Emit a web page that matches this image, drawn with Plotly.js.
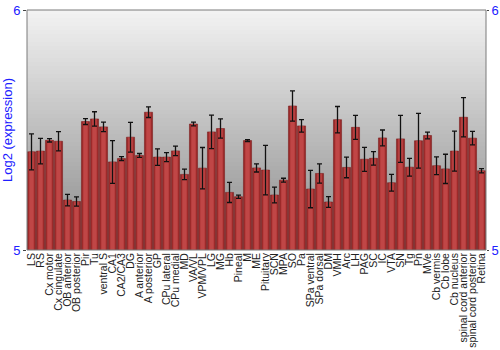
<!DOCTYPE html>
<html>
<head>
<meta charset="utf-8">
<script src="https://cdn.plot.ly/plotly-3.0.1.min.js"></script>
<style>html,body{margin:0;padding:0;background:#fff;}#chart{width:500px;height:350px;}</style>
</head>
<body>
<div id="chart"></div>
<script>
const regions = ["LS","RS","Cx motor","Cx cingulate","OB anterior","OB posterior","Pir","Tu","ventral S","CA1","CA2/CA3","DG","A anterior","A posterior","GP","CPu lateral","CPu medial","MD","VA/VL","VPM/VPL","LG","MG","Hb","Pineal","M","ME","Pituitary","SCN","MPA","SO","Pa","SPa ventral","SPa dorsal","DM","VMH","Arc","LH","PAG","SC","IC","VTA","SN","Tg","Pn","MVe","Cb vermis","Cb lobe","Cb nucleus","spinal cord anterior","spinal cord posterior","Retina"];
const expression = [5.409,5.412,5.457,5.453,5.208,5.202,5.535,5.546,5.513,5.367,5.381,5.470,5.394,5.574,5.387,5.387,5.413,5.315,5.525,5.341,5.492,5.506,5.240,5.222,5.456,5.342,5.333,5.229,5.291,5.600,5.517,5.254,5.319,5.200,5.543,5.344,5.511,5.378,5.382,5.467,5.280,5.463,5.345,5.455,5.477,5.351,5.338,5.412,5.553,5.466,5.330];
const errors = [0.075,0.053,0.007,0.040,0.024,0.019,0.012,0.030,0.020,0.089,0.008,0.062,0.008,0.022,0.034,0.019,0.020,0.022,0.008,0.086,0.070,0.040,0.042,0.007,0.004,0.017,0.103,0.033,0.008,0.063,0.026,0.078,0.040,0.022,0.055,0.043,0.050,0.050,0.028,0.033,0.035,0.098,0.037,0.114,0.014,0.037,0.061,0.083,0.082,0.028,0.009];
const yTicks = [5, 6];

// background gradient bands
const shapes = [];
const nBands = 60;
for (let i = 0; i < nBands; i++) {
  const t = i / (nBands - 1);
  const c = Math.round(242 - t * (242 - 138));
  shapes.push({type:'rect', xref:'paper', yref:'paper', x0:0, x1:1,
    y0:1 - (i + 1) / nBands, y1:1 - i / nBands,
    fillcolor:`rgb(${c},${c},${c})`, line:{width:0}, layer:'below'});
}
// plot frame
shapes.push({type:'rect', xref:'paper', yref:'paper', x0:0, x1:1, y0:0, y1:1,
  fillcolor:'rgba(0,0,0,0)', line:{color:'#7a7a7a', width:1}, layer:'above'});

const base = {
  type:'bar', x:regions, y:expression, base:0,
  width:0.9, marker:{color:'#9c2a2a', line:{color:'#7a1c1c', width:0.6}},
  hoverinfo:'skip', showlegend:false
};
const shine = {
  type:'bar', x:regions, y:expression,
  width:0.5, marker:{color:'#c04646', line:{width:0}},
  error_y:{type:'data', array:errors, visible:true, color:'#111', thickness:1.3, width:2.5},
  showlegend:false
};
// invisible trace so the mirrored right-hand axis is drawn
const rightAxis = {
  type:'scatter', mode:'markers', x:regions, y:expression, yaxis:'y2',
  marker:{opacity:0}, hoverinfo:'skip', showlegend:false
};

const layout = {
  width:500, height:350,
  margin:{l:27, r:14, t:10, b:100, pad:0},
  paper_bgcolor:'#fff', plot_bgcolor:'rgba(0,0,0,0)',
  barmode:'overlay', bargap:0.1,
  font:{family:'Liberation Sans, Arial, sans-serif'},
  shapes:shapes,
  xaxis:{tickangle:-90, tickmode:'linear', dtick:1, tick0:0, color:'#808080',
    tickfont:{size:10.5, color:'#222'}, showline:false, ticks:'', showgrid:false, automargin:false,
    range:[-0.5, regions.length - 0.5]},
  yaxis:{range:[5,6], tickvals:yTicks, ticktext:yTicks.map(String), ticks:'outside', ticklen:3,
    color:'#808080', tickcolor:'#444', tickfont:{size:13, color:'#2020ff'}, showline:false,
    showgrid:false, zeroline:false, automargin:false,
    title:{text:'Log2 (expression)', font:{size:13, color:'#2020ff'}, standoff:2}},
  yaxis2:{range:[5,6], tickvals:yTicks, ticktext:yTicks.map(String), overlaying:'y', side:'right',
    color:'#808080', ticks:'outside', ticklen:2, tickcolor:'#444', tickfont:{size:13, color:'#2020ff'},
    showline:false, showgrid:false, zeroline:false, automargin:false}
};

Plotly.newPlot('chart', [base, shine, rightAxis], layout, {staticPlot:true, displayModeBar:false});
</script>
</body>
</html>
